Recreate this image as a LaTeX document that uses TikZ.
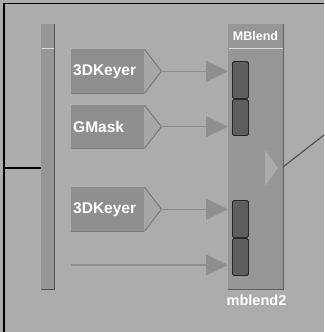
\documentclass[tikz,border=0pt]{standalone}
\usepackage{fontspec}
\setmainfont{Liberation Sans}
\usetikzlibrary{arrows.meta}
\definecolor{bg}{gray}{0.675}
\definecolor{nodefill}{gray}{0.56}
\definecolor{nodeedge}{gray}{0.48}
\definecolor{tipfill}{gray}{0.655}
\definecolor{blendfill}{gray}{0.59}
\definecolor{slotfill}{gray}{0.37}
\definecolor{slotedge}{gray}{0.15}
\definecolor{wire}{gray}{0.56}
\definecolor{outwire}{gray}{0.33}
\tikzset{
  keyer/.style={draw=none, fill=nodefill, minimum width=73pt, minimum height=44pt,
    inner xsep=2pt, inner ysep=0pt, text width=69pt, align=left, anchor=north west, text=white,
    font=\fontsize{15.5}{16}\selectfont\bfseries},
  chev/.style={fill=tipfill, draw=nodeedge, line width=1pt},
  slotbox/.style={draw=slotedge, fill=slotfill, line width=0.9pt, rounded corners=1.5pt,
    minimum width=16pt, minimum height=36pt, inner sep=0pt, anchor=north west},
  wirestyle/.style={draw=wire, line width=1.3pt,
    -{Triangle[length=22pt,width=21pt,fill=wire]}},
}
\begin{document}
\begin{tikzpicture}[x=1pt,y=-1pt]
\useasboundingbox (0,0) rectangle (324,332);
\fill[bg] (0,0) rectangle (324,332);
\draw[black, line width=1.6pt] (4,332) -- (4,3.5) -- (324,3.5);

% left bar
\node[draw=none, fill=blendfill, minimum width=13pt, minimum height=265pt, inner sep=0pt, anchor=north west] (bar) at (41,24) {};
\draw[gray!65!black, line width=1pt] (bar.north east) -- (bar.south east) -- (bar.south west);
\draw[white!75!gray, line width=0.8pt] (41.5,48) -- (53.5,48);

% MBlend node
\node[draw=none, fill=blendfill, minimum width=55pt, minimum height=265pt, inner sep=0pt, anchor=north west] (mb) at (228,24) {};
\draw[gray!75!black, line width=1.2pt] (mb.north east) -- (mb.south east) -- (mb.south west);
\draw[white!70!gray, line width=0.8pt] (228.5,48) -- (282.5,48);
\node[text=white, font=\fontsize{12.5}{13}\selectfont\bfseries] (mbt) at (255.5,36.5) {MBlend};
\node[text=white, font=\fontsize{14.5}{15}\selectfont\bfseries] (mbl) at (256.5,300) {mblend2};

% slots
\node[slotbox, minimum height=37pt] (s1) at (232,61) {};
\node[slotbox, minimum height=36pt] (s2) at (232,99) {};
\node[slotbox, minimum height=37pt] (s3) at (232,200) {};
\node[slotbox, minimum height=37pt] (s4) at (232,238) {};

% output triangle
\fill[white!20!blendfill] (265,150) -- (278,168) -- (265,186) -- cycle;
\coordinate (out) at (283,167);
\coordinate (outend) at (324,135);
\draw[outwire, line width=1.2pt] (out) -- (outend);

% input wire
\coordinate (inL) at (5,168);
\draw[black, line width=1.5pt] (inL) -- (bar.west |- inL);

% keyer nodes
\node[keyer] (k1) at (71,49) {3DKeyer};
\node[keyer, minimum height=43pt] (k2) at (71,105) {GMask};
\node[keyer] (k3) at (71,187) {3DKeyer};
\foreach \k in {k1,k2,k3}{
  \coordinate (\k tip) at ([xshift=17pt]\k.east);
  \draw[chev] (\k.north east) -- (\k tip) -- (\k.south east);
  \draw[nodeedge, line width=1pt] (\k.south west) -- (\k.south east);
}
\coordinate (k4tip) at (71,265);

\draw[wirestyle] (k1tip) -- (mb.west |- k1tip);
\draw[wirestyle] (k2tip) -- (mb.west |- k2tip);
\draw[wirestyle] (k3tip) -- (mb.west |- k3tip);
\draw[wirestyle] (k4tip) -- (mb.west |- k4tip);
\end{tikzpicture}
\end{document}
